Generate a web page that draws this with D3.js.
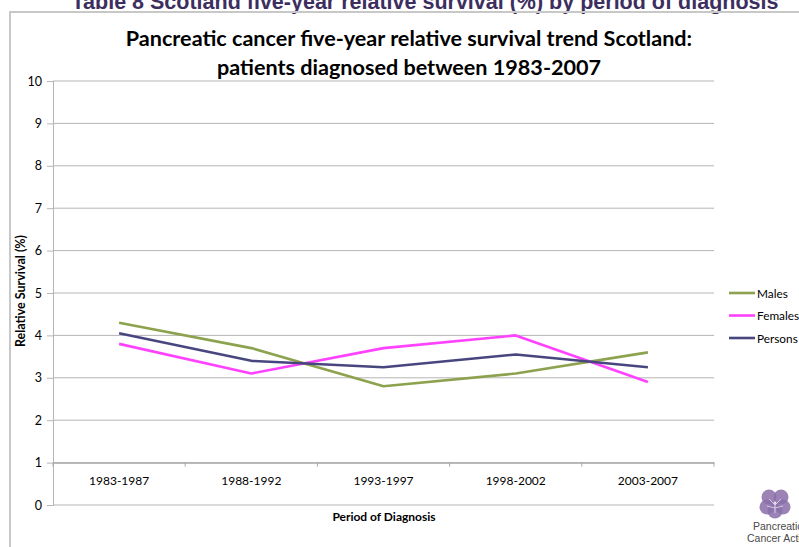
<!DOCTYPE html>
<html>
<head>
<meta charset="utf-8">
<script src="https://cdn.jsdelivr.net/npm/d3@7"></script>
<style>
  html, body { margin: 0; padding: 0; background: #fff; }
  svg { display: block; }
</style>
</head>
<body>
<svg id="chart" width="799" height="547"></svg>
<script>
// Five-year relative survival (%) by period of diagnosis, Scotland
const periods = ["1983-1987", "1988-1992", "1993-1997", "1998-2002", "2003-2007"];
const males   = [4.3, 3.7, 2.8, 3.1, 3.6];
const females = [3.8, 3.1, 3.7, 4.0, 2.9];
const persons = [4.05, 3.4, 3.25, 3.55, 3.25];
const yTicks  = [0, 1, 2, 3, 4, 5, 6, 7, 8, 9, 10];

const seriesNames  = ["Males", "Females", "Persons"];
const seriesValues = [males, females, persons];
const seriesColors = ["#8da24e", "#ff42ff", "#48467f"];

const svg = d3.select("#chart");
const plotLeft = 53, plotRight = 714, plotTop = 81, plotBottom = 505;
const labelFont = "Lato, 'Open Sans', sans-serif";

// Page header, partly clipped at the top edge
svg.append("text")
  .attr("x", 425).attr("y", 9)
  .attr("text-anchor", "middle")
  .attr("font-family", "Liberation Sans, Arial, sans-serif")
  .attr("font-weight", "bold")
  .attr("font-size", 21.5)
  .attr("fill", "#3c2e5e")
  .text("Table 8 Scotland five-year relative survival (%) by period of diagnosis");

// Frame around the embedded chart
svg.append("path")
  .attr("d", "M10,547 V12 H799")
  .attr("fill", "none")
  .attr("stroke", "#c8c8c8")
  .attr("stroke-width", 2);

// Chart title
const title = svg.append("text")
  .attr("text-anchor", "middle")
  .attr("font-family", labelFont)
  .attr("font-weight", "bold")
  .attr("font-size", 21.6)
  .attr("fill", "#000");
title.append("tspan").attr("x", 409).attr("y", 46)
  .text("Pancreatic cancer five-year relative survival trend Scotland:");
title.append("tspan").attr("x", 409).attr("y", 75)
  .text("patients diagnosed between 1983-2007");

const x = d3.scaleBand().domain(periods).range([plotLeft, plotRight]);
const y = d3.scaleLinear().domain([0, 10]).range([plotBottom, plotTop]);

// Horizontal gridlines
svg.append("g")
  .selectAll("line")
  .data(yTicks)
  .join("line")
  .attr("x1", plotLeft).attr("x2", plotRight)
  .attr("y1", d => y(d)).attr("y2", d => y(d))
  .attr("stroke", "#b5b5b5")
  .attr("stroke-width", 1);

// Value axis
const yAxis = svg.append("g")
  .attr("transform", `translate(${plotLeft},0)`)
  .call(d3.axisLeft(y).tickValues(yTicks).tickSize(6).tickPadding(5).tickFormat(d3.format("d")));
yAxis.select(".domain").attr("stroke", "#b5b5b5");
yAxis.selectAll(".tick line").attr("stroke", "#b5b5b5");
yAxis.selectAll(".tick text")
  .attr("font-family", labelFont)
  .attr("font-size", 12.5)
  .attr("fill", "#000");

// Category axis crosses the value axis at 1
const xAxis = svg.append("g")
  .attr("transform", `translate(0,${y(1)})`)
  .call(d3.axisBottom(x).tickSize(0).tickPadding(14));
xAxis.select(".domain").attr("stroke", "#a8a8a8").attr("stroke-width", 1.2);
xAxis.selectAll(".tick text")
  .attr("font-family", labelFont)
  .attr("font-size", 12)
  .attr("fill", "#000");
svg.append("g")
  .selectAll("line")
  .data(d3.range(periods.length + 1))
  .join("line")
  .attr("x1", i => plotLeft + i * x.step()).attr("x2", i => plotLeft + i * x.step())
  .attr("y1", y(1)).attr("y2", y(1) + 4)
  .attr("stroke", "#a8a8a8");

// Axis titles
svg.append("text")
  .attr("transform", `translate(25,${(plotTop + plotBottom) / 2 - 2}) rotate(-90)`)
  .attr("text-anchor", "middle")
  .attr("font-family", labelFont)
  .attr("font-weight", "bold")
  .attr("font-size", 12.5)
  .text("Relative Survival (%)");
svg.append("text")
  .attr("x", 384).attr("y", 521)
  .attr("text-anchor", "middle")
  .attr("font-family", labelFont)
  .attr("font-weight", "bold")
  .attr("font-size", 12)
  .text("Period of Diagnosis");

// Series lines
const line = d3.line()
  .x((d, i) => x(periods[i]) + x.bandwidth() / 2)
  .y(d => y(d));
svg.append("g")
  .selectAll("path")
  .data(seriesValues)
  .join("path")
  .attr("d", d => line(d))
  .attr("fill", "none")
  .attr("stroke", (d, i) => seriesColors[i])
  .attr("stroke-width", 2.6)
  .attr("stroke-linejoin", "round");

// Legend
const legend = svg.append("g")
  .selectAll("g")
  .data(seriesNames)
  .join("g")
  .attr("transform", (d, i) => `translate(729,${293 + i * 22.5})`);
legend.append("line")
  .attr("x1", 0).attr("x2", 26)
  .attr("stroke", (d, i) => seriesColors[i])
  .attr("stroke-width", 2.6);
legend.append("text")
  .attr("x", 28).attr("y", 4.5)
  .attr("font-family", labelFont)
  .attr("font-size", 11.8)
  .text(d => d);

// Charity logo, clipped at the right edge
const logo = svg.append("g").attr("transform", "translate(775,503)");
const petals = [[-6, -6], [6, -6], [-8, 4], [8, 4], [0, 8]];
logo.selectAll("circle")
  .data(petals)
  .join("circle")
  .attr("cx", d => d[0]).attr("cy", d => d[1])
  .attr("r", 7.5)
  .attr("fill", "#8a6fa8")
  .attr("fill-opacity", 0.85);
logo.append("path")
  .attr("d", "M0,10 V0 M0,2 L-6,-4 M0,2 L6,-4 M0,5 L-8,3 M0,5 L8,3")
  .attr("stroke", "#e6dcef").attr("stroke-width", 0.8).attr("fill", "none");
const logoText = svg.append("text")
  .attr("font-family", "Liberation Sans, Arial, sans-serif")
  .attr("font-size", 10.5)
  .attr("fill", "#4a4a4a");
logoText.append("tspan").attr("x", 753).attr("y", 530).text("Pancreatic");
logoText.append("tspan").attr("x", 747).attr("y", 542).text("Cancer Action");
</script>
</body>
</html>
